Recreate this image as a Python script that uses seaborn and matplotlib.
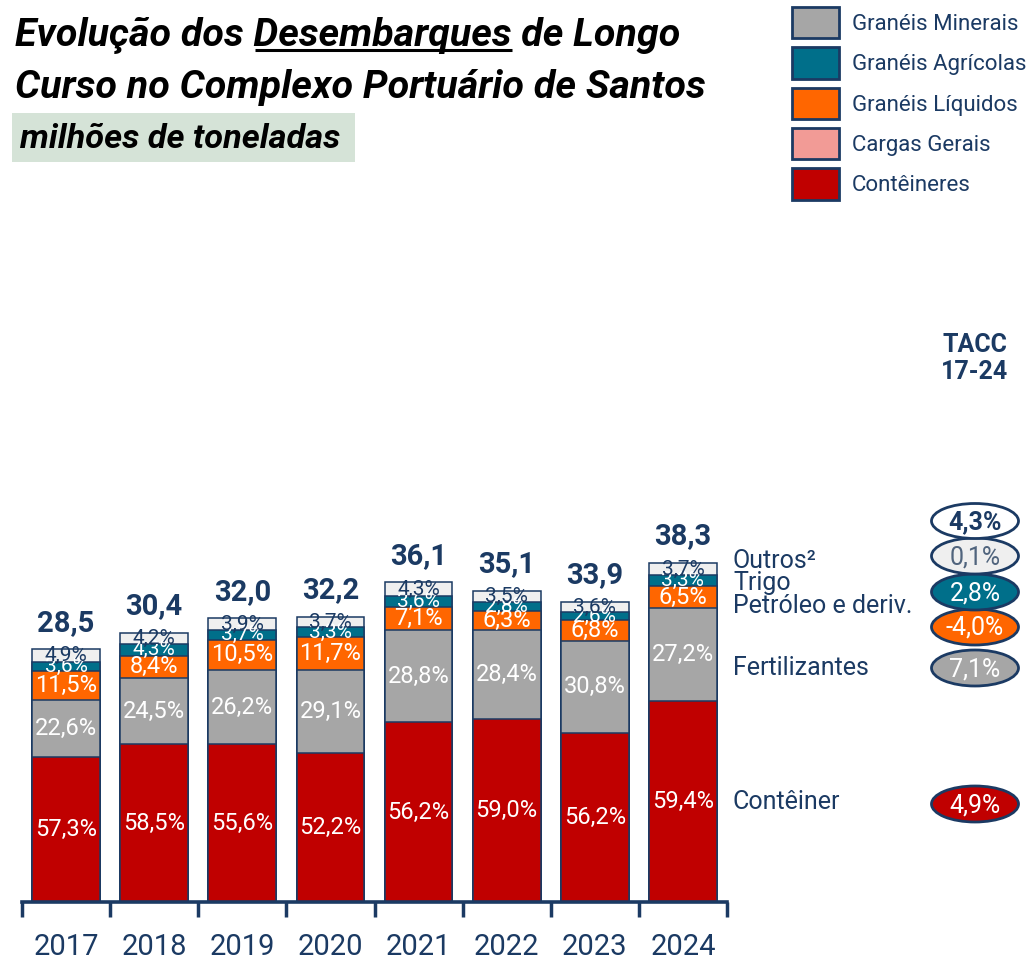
import numpy as np
import pandas as pd
import matplotlib
matplotlib.use("Agg")
import matplotlib.pyplot as plt
import seaborn as sns
from matplotlib.patches import Ellipse, Rectangle, Patch

# ---------------- data ----------------
years = ["2017", "2018", "2019", "2020", "2021", "2022", "2023", "2024"]
totals = [28.5, 30.4, 32.0, 32.2, 36.1, 35.1, 33.9, 38.3]
share_conteiner = [57.3, 58.5, 55.6, 52.2, 56.2, 59.0, 56.2, 59.4]
share_minerais = [22.6, 24.5, 26.2, 29.1, 28.8, 28.4, 30.8, 27.2]
share_liquidos = [11.5, 8.4, 10.5, 11.7, 7.1, 6.3, 6.8, 6.5]
share_agricolas = [3.6, 4.3, 3.7, 3.3, 3.6, 2.8, 2.6, 3.3]
share_outros = [4.9, 4.2, 3.9, 3.7, 4.3, 3.5, 3.6, 3.7]

segment_labels = ["Contêiner", "Fertilizantes", "Petróleo e deriv.", "Trigo", "Outros²"]
tacc_segments = ["4,9%", "7,1%", "-4,0%", "2,8%", "0,1%"]
tacc_total = "4,3%"
legend_labels = ["Granéis Minerais", "Granéis Agrícolas", "Granéis Líquidos",
                 "Cargas Gerais", "Contêineres"]

# ---------------- style ----------------
NAVY = "#1b3a63"
RED = "#c00000"
GRAY = "#a6a6a6"
ORANGE = "#ff6600"
TEAL = "#006f8a"
LIGHT = "#efefef"
PINK = "#f29b96"

sns.set_theme(style="white")
plt.rcParams["font.family"] = ["Roboto", "DejaVu Sans"]

W, H = 1031, 959
fig = plt.figure(figsize=(W / 100, H / 100), dpi=100)

base_px = 902
px_per_unit = 8.86
ax = fig.add_axes([22 / W, (H - base_px) / H, 705 / W, base_px / H])
ax.patch.set_alpha(0)

shares = [share_conteiner, share_minerais, share_liquidos, share_agricolas, share_outros]
colors = [RED, GRAY, ORANGE, TEAL, LIGHT]
share_sum = np.sum(shares, axis=0)
segs = [np.array(totals) * np.array(s) / share_sum for s in shares]
cum = np.cumsum(segs, axis=0)

df = pd.DataFrame({"year": years})
# draw cumulative bars from top to bottom so each layer overlays the previous
for i in range(4, -1, -1):
    df["v"] = cum[i]
    sns.barplot(data=df, x="year", y="v", color=colors[i], saturation=1,
                width=0.77, edgecolor=NAVY, linewidth=1.1, errorbar=None, ax=ax)

ax.set_xlim(-0.5, 7.5)
ax.set_ylim(0, base_px / px_per_unit)
ax.set_xlabel("")
ax.set_ylabel("")
ax.set_yticks([])
for s in ["top", "left", "right"]:
    ax.spines[s].set_visible(False)
ax.spines["bottom"].set_color(NAVY)
ax.spines["bottom"].set_linewidth(2.6)
ax.set_xticks(range(len(years)))
ax.set_xticklabels(years)
ax.set_xticks(np.arange(-0.5, len(years), 1), minor=True)
ax.tick_params(axis="x", which="major", bottom=False, length=0, pad=22,
               labelsize=21, labelcolor=NAVY)
ax.tick_params(axis="x", which="minor", bottom=True, length=11, width=2.5,
               color=NAVY, direction="out")

# segment percentage labels
for i, s in enumerate(shares):
    for j in range(len(years)):
        y = cum[i][j] - segs[i][j] / 2
        txt = f"{s[j]:.1f}".replace(".", ",") + "%"
        col = NAVY if i == 4 else "white"
        fs = 15 if i >= 3 else 17
        ax.text(j, y, txt, ha="center", va="center", color=col, fontsize=fs)

# totals
for j, t in enumerate(totals):
    ax.annotate(f"{t:.1f}".replace(".", ","), (j, cum[4][j]), xytext=(0, 9),
                textcoords="offset points", ha="center", va="bottom",
                fontsize=21, fontweight="bold", color=NAVY)

# ---------------- overlay (pixel coordinates) ----------------
ov = fig.add_axes([0, 0, 1, 1])
ov.set_xlim(0, W)
ov.set_ylim(H, 0)
ov.axis("off")
ov.patch.set_alpha(0)

fig.canvas.draw()
r = fig.canvas.get_renderer()


def fit(t, target):
    bb = t.get_window_extent(renderer=r)
    t.set_fontsize(t.get_fontsize() * target / bb.width)


title1 = "Evolução dos Desembarques de Longo"
title2 = "Curso no Complexo Portuário de Santos"
tkw = dict(fontweight="bold", fontstyle="italic", color="black", va="baseline", ha="left")
t1 = ov.text(15, 46, title1, fontsize=24, **tkw)
t2 = ov.text(15, 98, title2, fontsize=24, **tkw)
fit(t2, 691)
fit(t1, 666)

# underline "Desembarques"
fs1 = t1.get_fontsize()


def width_of(s):
    tmp = ov.text(0, 0, s, fontsize=fs1, **tkw)
    w = tmp.get_window_extent(renderer=r).width
    tmp.remove()
    return w


w_pre = width_of("Evolução dos")
w_sp = width_of("a a") - width_of("aa")
w_word = width_of("Evolução dos Desembarques")
ov.plot([15 + w_pre + w_sp + 2, 15 + w_word], [50, 50], color="black", lw=2.2,
        solid_capstyle="butt")

ov.add_patch(Rectangle((12, 113), 343, 49, facecolor="#d5e3d7", edgecolor="none"))
st = ov.text(20, 148, "milhões de toneladas", fontsize=20, **tkw)
fit(st, 320)

# legend
handles = [Patch(facecolor=c, edgecolor=NAVY, linewidth=2)
           for c in [GRAY, TEAL, ORANGE, PINK, RED]]
fig.legend(handles, legend_labels, loc="upper left",
           bbox_to_anchor=(792 / W, 1 - 7 / H), frameon=False, fontsize=16,
           handlelength=2.1, handleheight=1.8, handletextpad=0.6,
           labelspacing=0.4, borderpad=0, borderaxespad=0, labelcolor=NAVY)

# TACC header
ov.text(975, 345, "TACC", ha="center", va="center", fontsize=18,
        fontweight="bold", color=NAVY)
ov.text(975, 372, "17-24", ha="center", va="center", fontsize=18,
        fontweight="bold", color=NAVY)

# right side segment names
label_y = [802, 668, 606, 583, 561]
for lab, y in zip(segment_labels, label_y):
    ov.text(733, y, lab, ha="left", va="center", fontsize=18, color=NAVY)

# CAGR ellipses
ell_y = [804, 668, 627, 592, 556]
ell_fc = [RED, GRAY, ORANGE, TEAL, LIGHT]
ell_tc = ["white", "white", "white", "white", "#50647d"]
for v, y, fc, tc in zip(tacc_segments, ell_y, ell_fc, ell_tc):
    ov.add_patch(Ellipse((975, y), 87, 36, facecolor=fc, edgecolor=NAVY, lw=2))
    ov.text(975, y + 1, v, ha="center", va="center", fontsize=18, color=tc)
ov.add_patch(Ellipse((975, 521), 87, 35, facecolor="white", edgecolor=NAVY, lw=2))
ov.text(975, 522, tacc_total, ha="center", va="center", fontsize=18,
        fontweight="bold", color=NAVY)

fig.savefig("out.png", dpi=100)
